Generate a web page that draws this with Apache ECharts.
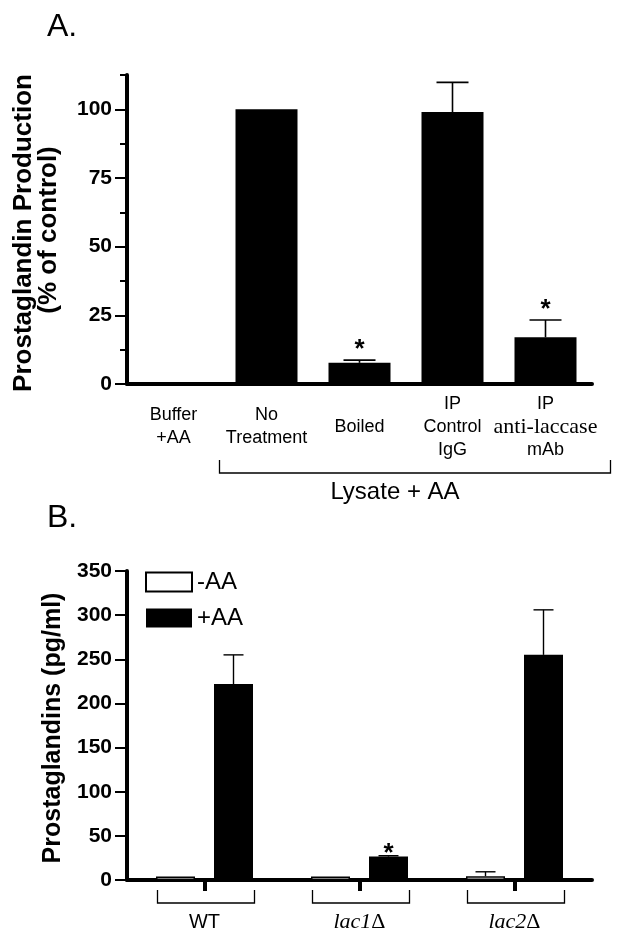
<!DOCTYPE html>
<html><head><meta charset="utf-8">
<script src="https://cdn.jsdelivr.net/npm/echarts@6/dist/echarts.min.js"></script>
<style>html,body{margin:0;padding:0;background:#fff}#c{width:624px;height:942px}</style>
</head><body><div id="c"></div>
<script>
// ---- Panel A data ----
const catsA = ['Buffer\n+AA', 'No\nTreatment', 'Boiled', 'IP\nControl\nIgG', 'IP\nanti-laccase\nmAb'];
const valsA = [0, 100, 7.7, 99, 17];
const errA = [0, 0, 1, 10.8, 6.3];
const sigA = [0, 0, 1, 0, 1];
const ticksA = [0, 25, 50, 75, 100];
const maxA = 112.5;
// ---- Panel B data ----
const catsB = ['WT', 'lac1Δ', 'lac2Δ'];
const minusAA = [4, 4, 4.3];
const minusAAerr = [0, 0, 5];
const plusAA = [222, 26.5, 255];
const plusAAerr = [33, 1, 51];
const sigB = [0, 1, 0];
const ticksB = [0, 50, 100, 150, 200, 250, 300, 350];

const SANS = 'Liberation Sans';
const SERIF = 'Liberation Serif';
const gA = {left: 127, top: 75, width: 465, height: 309};
const gB = {left: 127, top: 571, width: 465, height: 309};
const majorA = ticksA[1] - ticksA[0];
const gAmajorTop = gA.top + gA.height * (maxA - ticksA[ticksA.length - 1]) / maxA;
const gAmajorH = gA.height * (ticksA[ticksA.length - 1] - ticksA[0]) / maxA;
const BAR_W_B = 39, GAP_B = 19;
const offB = (BAR_W_B + GAP_B) / 2;

function errRender(off, capW, lw, starFont, starGap) {
  return function (params, api) {
    const i = api.value(0), v = api.value(1), e = api.value(2), s = api.value(3);
    const base = api.coord([i, v]);
    const top = api.coord([i, v + e]);
    const x = base[0] + off;
    const ch = [];
    if (e > 0) {
      ch.push({type: 'line', shape: {x1: x, y1: base[1], x2: x, y2: top[1]}, style: {stroke: '#000', lineWidth: lw}});
      ch.push({type: 'line', shape: {x1: x - capW / 2, y1: top[1], x2: x + capW / 2, y2: top[1]}, style: {stroke: '#000', lineWidth: lw}});
    }
    if (s) {
      ch.push({type: 'text', x: x, y: top[1] - starGap, style: {text: '*', font: starFont, fill: '#000', align: 'center', verticalAlign: 'middle'}});
    }
    return {type: 'group', children: ch};
  };
}

const chart = echarts.init(document.getElementById('c'), null, {renderer: 'canvas'});
const axisLineStyle = {color: '#000', width: 4};
const tickLabel = {margin: 15, color: '#000', fontFamily: SANS, fontWeight: 'bold', fontSize: 21};
const option = {
  animation: false,
  backgroundColor: '#fff',
  grid: [
    Object.assign({outerBoundsMode: 'none', containLabel: false}, gA),
    {outerBoundsMode: 'none', containLabel: false, left: gA.left, width: gA.width, top: gAmajorTop, height: gAmajorH},
    Object.assign({outerBoundsMode: 'none', containLabel: false}, gB)
  ],
  legend: {
    data: ['-AA', '+AA'], orient: 'vertical', left: 145, top: 570, padding: 0,
    itemWidth: 46, itemHeight: 19, itemGap: 12, icon: 'rect', selectedMode: false,
    textStyle: {fontFamily: SANS, fontSize: 24, color: '#000'}
  },
  xAxis: [
    {type: 'category', gridIndex: 0, data: catsA, axisLine: {lineStyle: axisLineStyle}, axisTick: {show: false},
      axisLabel: {margin: 43, verticalAlign: 'middle', interval: 0, color: '#000',
        formatter: v => v.split('\n').map(l => l === 'anti-laccase' ? '{t|' + l + '}' : '{s|' + l + '}').join('\n'),
        rich: {s: {fontFamily: SANS, fontSize: 18, lineHeight: 23, color: '#000'}, t: {fontFamily: SERIF, fontSize: 22, lineHeight: 23, color: '#000'}}}},
    {type: 'category', gridIndex: 1, data: catsA, show: false},
    {type: 'category', gridIndex: 2, data: catsB, axisLine: {lineStyle: axisLineStyle},
      axisTick: {show: true, alignWithLabel: true, length: 11, lineStyle: {color: '#000', width: 4}},
      axisLabel: {margin: 42, verticalAlign: 'middle', interval: 0, color: '#000',
        formatter: v => v === 'WT' ? '{s|' + v + '}' : '{i|' + v.replace('Δ', '') + '}{d|Δ}',
        rich: {s: {fontFamily: SANS, fontSize: 20, color: '#000'},
          i: {fontFamily: SERIF, fontStyle: 'italic', fontSize: 22, color: '#000'},
          d: {fontFamily: SERIF, fontSize: 22, color: '#000'}}}}
  ],
  yAxis: [
    {type: 'value', gridIndex: 0, min: 0, max: maxA, interval: majorA / 2, axisLine: {show: true, lineStyle: axisLineStyle},
      axisTick: {show: true, length: 7, lineStyle: {color: '#000', width: 2}}, axisLabel: {show: false}, splitLine: {show: false}},
    {type: 'value', gridIndex: 1, min: ticksA[0], max: ticksA[ticksA.length - 1], interval: majorA, axisLine: {show: false},
      axisTick: {show: true, length: 12, lineStyle: {color: '#000', width: 2}},
      axisLabel: tickLabel, splitLine: {show: false}},
    {type: 'value', gridIndex: 2, min: ticksB[0], max: ticksB[ticksB.length - 1], interval: ticksB[1] - ticksB[0],
      axisLine: {show: true, lineStyle: axisLineStyle},
      axisTick: {show: true, length: 12, lineStyle: {color: '#000', width: 2}},
      axisLabel: tickLabel, splitLine: {show: false}}
  ],
  series: [
    {type: 'bar', name: 'A', xAxisIndex: 0, yAxisIndex: 0, data: valsA, barWidth: 62, itemStyle: {color: '#000'}, silent: true},
    {type: 'custom', xAxisIndex: 0, yAxisIndex: 0, z: 5, silent: true,
      data: valsA.map((v, i) => [i, v, errA[i], sigA[i]]), encode: {x: 0, y: 1},
      renderItem: errRender(0, 32, 1.6, 'bold 26px ' + SANS, 10)},
    {type: 'bar', name: '-AA', xAxisIndex: 2, yAxisIndex: 2, data: minusAA, barWidth: BAR_W_B, barGap: (GAP_B / BAR_W_B * 100) + '%',
      itemStyle: {color: '#fff', borderColor: '#000', borderWidth: 1.5}, silent: true},
    {type: 'bar', name: '+AA', xAxisIndex: 2, yAxisIndex: 2, data: plusAA, barWidth: BAR_W_B, barGap: (GAP_B / BAR_W_B * 100) + '%',
      itemStyle: {color: '#000'}, silent: true},
    {type: 'custom', xAxisIndex: 2, yAxisIndex: 2, z: 5, silent: true,
      data: minusAA.map((v, i) => [i, v, minusAAerr[i], 0]), encode: {x: 0, y: 1},
      renderItem: errRender(-offB, 20, 1.4, 'bold 26px ' + SANS, 2)},
    {type: 'custom', xAxisIndex: 2, yAxisIndex: 2, z: 5, silent: true,
      data: plusAA.map((v, i) => [i, v, plusAAerr[i], sigB[i]]), encode: {x: 0, y: 1},
      renderItem: errRender(offB, 20, 1.4, 'bold 26px ' + SANS, 2)}
  ]
};
chart.setOption(option);

// annotations: panel letters, axis titles, group brackets
const px = (axis, i) => chart.convertToPixel({xAxisIndex: axis}, i);
const gfx = [
  {type: 'text', x: 47, y: 27, style: {text: 'A.', font: '32px ' + SANS, fill: '#000', verticalAlign: 'middle'}},
  {type: 'text', x: 47, y: 518, style: {text: 'B.', font: '32px ' + SANS, fill: '#000', verticalAlign: 'middle'}},
  {type: 'text', x: 24, y: 233, rotation: Math.PI / 2, style: {text: 'Prostaglandin Production', font: 'bold 26px ' + SANS, fill: '#000', align: 'center', verticalAlign: 'middle'}},
  {type: 'text', x: 49, y: 230, rotation: Math.PI / 2, style: {text: '(% of control)', font: 'bold 26px ' + SANS, fill: '#000', align: 'center', verticalAlign: 'middle'}},
  {type: 'text', x: 53, y: 728, rotation: Math.PI / 2, style: {text: 'Prostaglandins (pg/ml)', font: 'bold 25px ' + SANS, fill: '#000', align: 'center', verticalAlign: 'middle'}},
  {type: 'text', x: 395, y: 492, style: {text: 'Lysate + AA', font: '24px ' + SANS, fill: '#000', align: 'center', verticalAlign: 'middle'}}
];
const yA = gA.top + gA.height;
const l1 = px(0, 1) - 47, r1 = px(0, 4) + 65;
gfx.push({type: 'polyline', shape: {points: [[l1, yA + 76], [l1, yA + 89], [r1, yA + 89], [r1, yA + 76]]}, style: {stroke: '#000', lineWidth: 1.3, fill: null}});
const yB = gB.top + gB.height;
catsB.forEach((c, i) => {
  const cx = px(2, i);
  const l = cx - 47, r = cx + 50;
  gfx.push({type: 'polyline', shape: {points: [[l, yB + 10], [l, yB + 23], [r, yB + 23], [r, yB + 10]]}, style: {stroke: '#000', lineWidth: 1.3, fill: null}});
});
chart.setOption({graphic: {elements: gfx}});
</script>
</body></html>
